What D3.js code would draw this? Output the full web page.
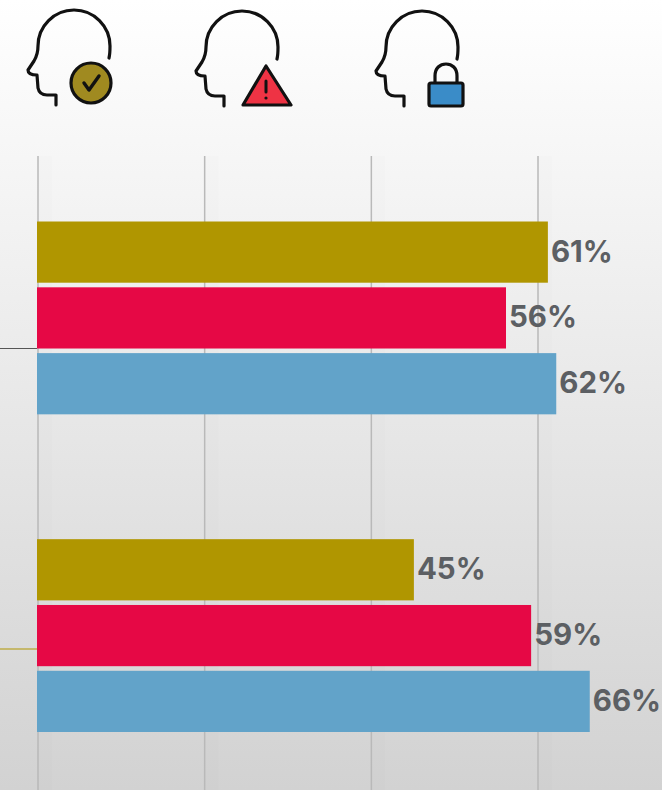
<!doctype html>
<html lang="en">
    <head>
        <meta charset="utf-8">
        <title>Chart</title>
        <script src="https://cdn.jsdelivr.net/npm/d3@7"></script>
        <style>
            html, body { margin: 0; padding: 0; }
            svg { display: block; }
        </style>
    </head>
    <body>
        <script>
            var groups = ["First", "Second"];
            var series = ["Confident", "Worried", "Protected"];
            var valuesConfident = [61, 45];
            var valuesWorried = [56, 59];
            var valuesProtected = [62, 66];
            var gridTicks = [0, 20, 40, 60];
            var seriesColors = ["#b09600", "#e60845", "#62a3c9"];

            var svgW = 662, svgH = 790;
            var rows = [valuesConfident, valuesWorried, valuesProtected];

            var svg = d3.select("body").append("svg")
                        .attr("width", svgW)
                        .attr("height", svgH);

            // page background
            var grad = svg.append("defs").append("linearGradient")
                          .attr("id", "bg")
                          .attr("x1", 0).attr("x2", 0)
                          .attr("y1", 0).attr("y2", 1);
            grad.append("stop").attr("offset", "0%").attr("stop-color", "#ffffff");
            grad.append("stop").attr("offset", "100%").attr("stop-color", "#d2d2d2");
            svg.append("rect")
               .attr("width", svgW).attr("height", svgH)
               .attr("fill", "url(#bg)");

            var xScale = d3.scaleLinear().domain([0, 60]).range([37, 539.5]);
            var gridScale = d3.scaleLinear().domain([0, 60]).range([38, 538]);
            var yGroup = d3.scaleBand().domain(groups).range([221.5, 732]).paddingInner(0.393);
            var ySeries = d3.scaleBand().domain(series).range([0, yGroup.bandwidth()]).paddingInner(0.07);

            // grid, with the faint shade that sits to its right
            svg.selectAll("line.shade")
               .data(gridTicks)
               .enter()
               .append("line")
               .attr("class", "shade")
               .attr("x1", d => gridScale(d) + 7).attr("x2", d => gridScale(d) + 7)
               .attr("y1", 156).attr("y2", svgH)
               .attr("stroke", "#000")
               .attr("stroke-opacity", 0.006)
               .attr("stroke-width", 14);
            svg.selectAll("line.grid")
               .data(gridTicks)
               .enter()
               .append("line")
               .attr("class", "grid")
               .attr("x1", d => gridScale(d)).attr("x2", d => gridScale(d))
               .attr("y1", 156).attr("y2", svgH)
               .attr("stroke", "#b9b9b9")
               .attr("stroke-width", 1.5);

            // leader lines coming in from the left
            svg.append("line").attr("x1", 0).attr("x2", 37)
               .attr("y1", 348.5).attr("y2", 348.5)
               .attr("stroke", "#555").attr("stroke-width", 1.2);
            svg.append("line").attr("x1", 0).attr("x2", 37)
               .attr("y1", 649).attr("y2", 649)
               .attr("stroke", "#b09600").attr("stroke-width", 1.2);

            // bars and labels
            series.forEach(function(s, i) {
                svg.selectAll("rect.s" + i)
                   .data(rows[i])
                   .enter()
                   .append("rect")
                   .attr("class", "s" + i)
                   .attr("x", xScale(0))
                   .attr("y", (d, j) => yGroup(groups[j]) + ySeries(s))
                   .attr("width", d => xScale(d) - xScale(0))
                   .attr("height", ySeries.bandwidth())
                   .attr("fill", seriesColors[i]);

                svg.selectAll("text.s" + i)
                   .data(rows[i])
                   .enter()
                   .append("text")
                   .attr("class", "s" + i)
                   .text(d => d + "%")
                   .attr("x", d => xScale(d) + 3)
                   .attr("y", (d, j) => yGroup(groups[j]) + ySeries(s) + ySeries.bandwidth() / 2 + 1.5)
                   .attr("dominant-baseline", "middle")
                   .attr("font-family", "Inter, sans-serif")
                   .attr("font-weight", 700)
                   .attr("font-size", "29.5px")
                   .attr("fill", "#5c5f63");
            });

            // head icons
            var headPath = "M109,58 C110,54 110,50 110,46 A36,36 0 0 0 38,46 C38,52 37,56 34,61 L28,70 C28,74 32,75 37,75 L38,88 C39,93 42,95 47,95 L56,95 L56,105";
            var iconOffsets = [[0, 0], [168, 1], [348, 1]];
            var icons = svg.selectAll("g.icon")
                           .data(iconOffsets)
                           .enter()
                           .append("g")
                           .attr("class", "icon")
                           .attr("transform", d => "translate(" + d[0] + "," + d[1] + ")");
            icons.append("path")
                 .attr("d", headPath)
                 .attr("fill", "none")
                 .attr("stroke", "#111")
                 .attr("stroke-width", 3.2)
                 .attr("stroke-linecap", "round")
                 .attr("stroke-linejoin", "round");

            var badgeStroke = {stroke: "#111", width: 3.2};

            // check badge
            svg.append("circle").attr("cx", 91).attr("cy", 83).attr("r", 20)
               .attr("fill", "#a08a20")
               .attr("stroke", badgeStroke.stroke).attr("stroke-width", badgeStroke.width);
            svg.append("path").attr("d", "M84,83 L89,90 L99,76")
               .attr("fill", "none").attr("stroke", "#111").attr("stroke-width", 3.4)
               .attr("stroke-linecap", "round").attr("stroke-linejoin", "round");

            // warning badge
            svg.append("path").attr("d", "M266,66 L291,105 L243,105 Z")
               .attr("fill", "#ee3344")
               .attr("stroke", badgeStroke.stroke).attr("stroke-width", badgeStroke.width)
               .attr("stroke-linejoin", "round");
            svg.append("path").attr("d", "M266,81 L266,92")
               .attr("stroke", "#111").attr("stroke-width", 3).attr("stroke-linecap", "round");
            svg.append("circle").attr("cx", 266).attr("cy", 98).attr("r", 1.6).attr("fill", "#111");

            // lock badge
            svg.append("path").attr("d", "M435,83 L435,76 C435,68 440,64 446,64 C452,64 457,68 457,76 L457,83")
               .attr("fill", "none")
               .attr("stroke", badgeStroke.stroke).attr("stroke-width", badgeStroke.width);
            svg.append("rect").attr("x", 429).attr("y", 83).attr("width", 34).attr("height", 23).attr("rx", 2)
               .attr("fill", "#3a8cc8")
               .attr("stroke", badgeStroke.stroke).attr("stroke-width", badgeStroke.width);
        </script>
    </body>
</html>
